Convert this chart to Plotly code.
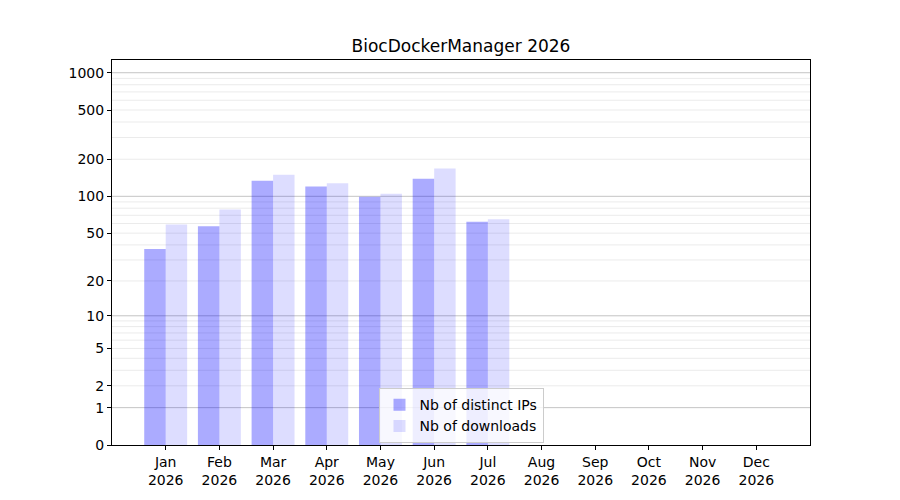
import numpy as np
import plotly.graph_objects as go

months = ["Jan", "Feb", "Mar", "Apr", "May", "Jun", "Jul", "Aug", "Sep", "Oct", "Nov", "Dec"]
year = "2026"
distinct_ips = [37, 57, 134, 120, 99, 139, 62, 0, 0, 0, 0, 0]
downloads = [59, 78, 150, 128, 105, 168, 65, 0, 0, 0, 0, 0]
y_tick_values = [0, 1, 2, 5, 10, 20, 50, 100, 200, 500, 1000]
major_grid_values = [1, 10, 100, 1000]
minor_grid_values = [m * d for d in (1, 10, 100) for m in range(2, 10)]


def tr(v):
    return np.log10(np.asarray(v, dtype=float) + 1)


x_idx = list(range(len(months)))
fig = go.Figure()
fig.add_trace(go.Bar(
    x=x_idx, y=tr(distinct_ips), name="Nb of distinct IPs",
    marker=dict(color="rgba(0,0,255,0.33)", line=dict(width=0)),
    customdata=distinct_ips, hovertemplate="%{customdata}<extra></extra>",
))
fig.add_trace(go.Bar(
    x=x_idx, y=tr(downloads), name="Nb of downloads",
    marker=dict(color="rgba(0,0,255,0.135)", line=dict(width=0)),
    customdata=downloads, hovertemplate="%{customdata}<extra></extra>",
))

for v in minor_grid_values:
    fig.add_shape(type="line", xref="paper", x0=0, x1=1, yref="y", y0=float(tr(v)), y1=float(tr(v)),
                  line=dict(color="#ebebeb", width=1), layer="below")
for v in major_grid_values:
    fig.add_shape(type="line", xref="paper", x0=0, x1=1, yref="y", y0=float(tr(v)), y1=float(tr(v)),
                  line=dict(color="#c4c4c4", width=1), layer="below")

font = "DejaVu Sans, Liberation Sans, sans-serif"
fig.update_layout(
    width=900, height=500,
    paper_bgcolor="white", plot_bgcolor="white",
    margin=dict(l=104, r=98, t=52, b=63),
    title=dict(text="BiocDockerManager 2026", x=0.5033, xanchor="center", y=0.924, yanchor="middle",
               font=dict(family=font, size=17, color="black")),
    font=dict(family=font, size=14, color="black"),
    barmode="group", bargap=0.2, bargroupgap=0,
    showlegend=True,
    legend=dict(x=0.5, y=0.005, xanchor="center", yanchor="bottom",
                bgcolor="rgba(255,255,255,0.8)", bordercolor="#cccccc", borderwidth=1,
                font=dict(family=font, size=14, color="black"), tracegroupgap=2),
    xaxis=dict(range=[-1, 12], tickmode="array", tickvals=x_idx,
               ticktext=[f"{m}<br>{year}" for m in months],
               showgrid=False, zeroline=False, showline=True, linecolor="black", linewidth=1,
               mirror=True, ticks="outside", ticklen=4, tickwidth=1, tickcolor="black",
               tickfont=dict(family=font, size=14, color="black")),
    yaxis=dict(range=[0, 3.103], tickmode="array", tickvals=[float(tr(v)) for v in y_tick_values],
               ticktext=[str(v) for v in y_tick_values],
               showgrid=False, zeroline=False, showline=True, linecolor="black", linewidth=1,
               mirror=True, ticks="outside", ticklen=4, tickwidth=1, tickcolor="black",
               tickfont=dict(family=font, size=14, color="black")),
)

fig.write_html("out.html")
